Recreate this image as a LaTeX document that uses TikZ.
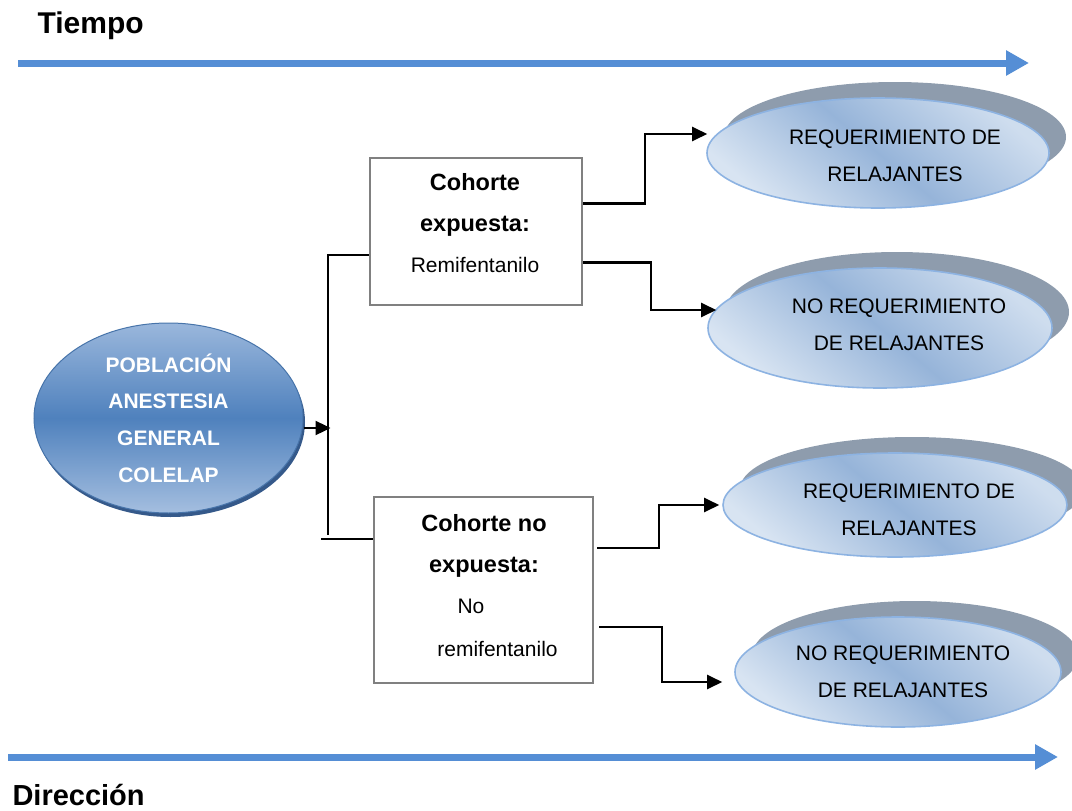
\documentclass[tikz,border=0pt]{standalone}
\usepackage{fontspec}
\setmainfont{Liberation Sans}
\usetikzlibrary{shapes.geometric,arrows.meta,calc,shadows}
\definecolor{flecha}{HTML}{558ED5}
\definecolor{sombra}{HTML}{8E9CAD}
\definecolor{borde}{HTML}{8DB3E2}
\definecolor{azul}{HTML}{4F81BD}
\definecolor{azulclaro}{HTML}{9AB7DC}
\definecolor{azulosc}{HTML}{35598A}
\definecolor{celeste}{HTML}{96B4D9}
\definecolor{palido}{HTML}{D8E4F2}

\begin{document}
\begin{tikzpicture}[x=1pt, y=-1pt,
    >={Triangle[length=15pt,width=14pt]},
    conector/.style={line width=2.4pt, ->},
    rama/.style={line width=2pt},
    caja/.style={rectangle, draw=gray, line width=2.4pt},
    tiempo/.style={flecha, line width=7pt, -{Triangle[length=23pt,width=24pt]}},
    resultado/.style={ellipse, draw=borde, line width=1.6pt, inner sep=0pt,
      top color=palido!85!celeste, bottom color=palido, middle color=celeste,
      shading angle=-40, general shadow={fill=sombra, shadow xshift=17pt, shadow yshift=16pt}},
    texto/.style={align=center, font=\fontsize{21}{37}\selectfont}]
  \useasboundingbox (0,0) rectangle (1072,811);
  % flechas de tiempo y direccion
  \node[anchor=base west, font=\fontsize{30}{36}\selectfont\bfseries] (ti) at (34,33.5) {Tiempo};
  \node[anchor=base west, font=\fontsize{29}{36}\selectfont\bfseries] (di) at (9,805) {Dirección};
  \coordinate (t0) at (18,63); \coordinate (t1) at (1029,63);
  \coordinate (d0) at (8,757); \coordinate (d1) at (1058,757);
  \draw[tiempo] (t0) -- (t1);
  \draw[tiempo] (d0) -- (d1);
  % poblacion
  \node[ellipse, minimum width=269pt, minimum height=190pt, inner sep=0pt,
        draw=azul!90!black, line width=1pt, top color=azulclaro, bottom color=azulclaro!90!white,
        middle color=azul, general shadow={fill=azulosc, shadow xshift=2pt, shadow yshift=-4pt},
        text=white, align=center, font=\fontsize{21}{36.7}\selectfont\bfseries]
        (pob) at (168.5,418) {POBLACIÓN\\ANESTESIA\\GENERAL\\COLELAP};
  % cohortes
  \node[caja, minimum width=212pt, minimum height=147pt] (b1) at (476,231.5) {};
  \node[caja, minimum width=219pt, minimum height=186pt] (b2) at (483.5,590) {};
  \node[align=center, font=\fontsize{21}{41}\selectfont] (t1) at (475,223.5)
       {{\fontsize{23.5}{41}\selectfont\bfseries Cohorte}\\
        {\fontsize{23.5}{41}\selectfont\bfseries expuesta:}\\Remifentanilo};
  \node[align=center, font=\fontsize{21}{41}\selectfont] (t2) at (484,586)
       {{\fontsize{23.5}{41}\selectfont\bfseries Cohorte no}\\
        {\fontsize{23.5}{41}\selectfont\bfseries expuesta:}\\
        \hspace*{-26pt}No\\[2pt]\hspace*{27pt}remifentanilo};
  % resultados
  \node[resultado, minimum width=342pt, minimum height=110pt] (r1) at (878,153) {};
  \node[resultado, minimum width=344pt, minimum height=120pt] (r2) at (880,328) {};
  \node[resultado, minimum width=344pt, minimum height=104pt] (r3) at (895,505) {};
  \node[resultado, minimum width=326pt, minimum height=110pt] (r4) at (898,672) {};
  \node[texto] (e1) at (895,156) {REQUERIMIENTO DE\\RELAJANTES};
  \node[texto] (e2) at (899,325) {NO REQUERIMIENTO\\DE RELAJANTES};
  \node[texto] (e3) at (909,510) {REQUERIMIENTO DE\\RELAJANTES};
  \node[texto] (e4) at (903,672) {NO REQUERIMIENTO\\DE RELAJANTES};
  % conectores
  \draw[conector] ($(pob.east)+(0,10)$) -- ++(27,0);
  \draw[rama] ($(b1.west)+(0,23.5)$) -- ++(-41,0) -- ++(0,280);
  \draw[rama] ($(b2.west)+(0,-51)$) -- ++(-52,0);
  \draw[conector] ($(b1.east)+(0,-28)$) -- ++(62,0) |- ($(r1.west)+(1,-19)$);
  \draw[conector] ($(b1.east)+(0,31)$) -- ++(68,0) |- ($(r2.west)+(9,-18)$);
  \draw[conector] ($(b2.east)+(3,-42)$) -- ++(62,0) |- ($(r3.west)+(-3,0)$);
  \draw[conector] ($(b2.east)+(5,37)$) -- ++(63,0) |- ($(r4.west)+(-12,10)$);
\end{tikzpicture}
\end{document}
